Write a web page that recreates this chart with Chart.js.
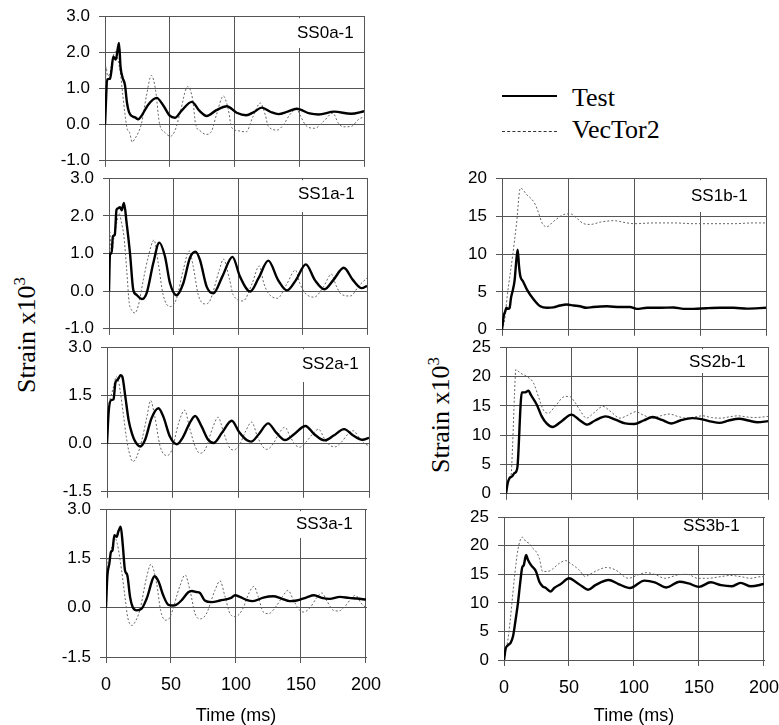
<!DOCTYPE html>
<html><head><meta charset="utf-8">
<script src="https://cdn.jsdelivr.net/npm/chart.js@4.4.1/dist/chart.umd.min.js"></script>
<style>
html,body{margin:0;padding:0;background:#fff}
body{width:779px;height:725px;overflow:hidden;position:relative;font-family:"Liberation Sans",Arial,sans-serif}
canvas{position:absolute;z-index:2}
.hg{position:absolute;height:1px;background:#555;z-index:1}
.ytitle{position:absolute;font-family:"Liberation Serif","Times New Roman",serif;font-size:26px;line-height:26px;white-space:nowrap;transform:translate(-50%,-50%) rotate(-90deg);color:#000}
.ytitle sup{font-size:17px;line-height:0;vertical-align:10px}
.leg{position:absolute;font-family:"Liberation Serif","Times New Roman",serif;font-size:26px;line-height:26px;white-space:nowrap;color:#000}
.legline{position:absolute;left:502px;width:55px;height:0}
</style>
</head><body>
<div class="legline" style="top:95px;border-top:2px solid #000"></div>
<div class="legline" style="top:131px;border-top:1px dashed #333"></div>
<div class="leg" style="left:572px;top:85px">Test</div>
<div class="leg" style="left:572px;top:117px">VecTor2</div>
<div class="ytitle" style="left:27px;top:335px">Strain x10<sup>3</sup></div>
<div class="ytitle" style="left:441px;top:415px">Strain x10<sup>3</sup></div>
<script>
// ---------- DATA (time ms, strain x10^3) ----------
const timeTicks = [0, 50, 100, 150, 200];
const panelNames = ['SS0a-1','SS1a-1','SS2a-1','SS3a-1','SS1b-1','SS2b-1','SS3b-1'];
const seriesNames = ['Test','VecTor2'];

const ss0aTest = [[0,0],[1.8,1.25],[3.9,1.27],[5,1.5],[6.4,1.88],[8.3,1.8],[10.8,2.26],[12,1.6],[13.6,1.3],[15.4,1.1],[17,0.6],[18.5,0.35],[20.6,0.24],[23.2,0.2],[25.7,0.15],[28.3,0.25],[33.5,0.56],[39.9,0.74],[45,0.53],[50.2,0.24],[54,0.19],[59,0.38],[67,0.63],[73,0.38],[78.5,0.24],[86,0.4],[94,0.51],[101.7,0.33],[109,0.26],[115,0.35],[121,0.47],[128,0.35],[134,0.29],[141,0.36],[148,0.44],[158,0.31],[165,0.28],[177,0.36],[190,0.3],[200,0.37]];
const ss0aVec = [[0,0],[0.8,1.6],[2,1.35],[4,1.45],[6,1.85],[8.2,2.03],[10,1.8],[12,1.4],[13.5,0.9],[15.4,0.3],[17,-0.1],[19,-0.22],[21,-0.48],[23,-0.39],[25.7,-0.22],[28.3,0.05],[32,0.8],[35.8,1.36],[39,0.97],[42,0.05],[46.4,-0.22],[50.5,-0.32],[54,-0.17],[58,0.33],[63.8,1.05],[67.7,0.7],[70,0.01],[73.4,-0.17],[78.5,-0.27],[82.4,-0.17],[86.2,0.29],[91.4,0.79],[95.2,0.42],[97.8,-0.08],[103,-0.17],[109,-0.2],[114,0.2],[120,0.6],[124,0.24],[126,-0.04],[133,-0.15],[138,0.01],[143,0.29],[148,0.43],[151,0.24],[155,-0.02],[162,-0.1],[169,0.1],[176,0.32],[180,0.05],[184,-0.06],[190,-0.05],[196,0.15],[200,0.22]];

const ss1aTest = [[0,0],[0.8,1.0],[2,1.0],[3,1.45],[4.5,1.5],[5.8,2.16],[7,2.2],[8.5,2.23],[9.8,2.15],[11.6,2.34],[13.7,1.8],[16.3,1.0],[18.8,0.04],[21.4,-0.1],[25.3,-0.21],[29.2,-0.05],[34.3,0.74],[39,1.29],[43.4,0.92],[47.3,0.21],[52.4,-0.11],[57.6,0.21],[62.7,0.88],[67,1.05],[70.5,0.83],[75.7,0.12],[80.8,-0.06],[88,0.4],[95.7,0.91],[101.5,0.39],[109.5,-0.01],[116,0.35],[123.5,0.81],[131,0.3],[138,0.02],[145,0.3],[152.6,0.71],[159.5,0.3],[167,0.05],[174,0.3],[182,0.62],[189,0.3],[196,0.08],[200,0.14]];
const ss1aVec = [[0,0],[0.5,1.59],[2,1.0],[3.9,1.45],[5.9,1.8],[7.7,2.07],[9.8,1.8],[11.6,1.45],[13.7,0.57],[15.7,-0.32],[17.5,-0.5],[20,-0.58],[22.6,-0.4],[26.6,0.3],[30.5,0.92],[34.9,1.36],[38.2,0.74],[42,-0.1],[47.3,-0.41],[52,-0.23],[57.6,0.57],[62.2,1.07],[65.3,0.65],[69.2,-0.1],[74.4,-0.34],[78,-0.27],[85.6,0.57],[88.7,0.85],[93.5,0.3],[96.3,-0.1],[104,-0.26],[111,0.21],[116.5,0.67],[120,0.21],[123.4,-0.05],[130.5,-0.19],[138,0.2],[144.5,0.56],[148,0.2],[152,-0.05],[159,-0.16],[166,0.1],[172.5,0.45],[176,0.15],[180,-0.08],[187,-0.13],[194,0.15],[200,0.35]];

const ss2aTest = [[0,0],[1.3,1.0],[3,1.35],[5,1.38],[6.3,1.87],[7.6,1.97],[8.9,2.03],[10.2,2.13],[11.7,2.08],[14,1.46],[16.5,0.73],[19,0.32],[21.6,0.06],[25.4,-0.09],[29,0.11],[34,0.79],[39.3,1.1],[43,0.84],[48,0.22],[53.3,-0.02],[58,0.2],[63,0.63],[67.3,0.86],[72,0.55],[77.4,0.11],[81.5,0.02],[88,0.35],[95.2,0.71],[101,0.35],[106.6,0.11],[110,0.06],[116,0.3],[123,0.63],[129,0.35],[136,0.11],[143,0.3],[151.5,0.55],[158,0.3],[166,0.1],[173,0.25],[181,0.45],[188,0.25],[195,0.12],[200,0.18]];
const ss2aVec = [[0,0],[1.3,1.15],[3,1.46],[5,1.77],[7.1,2.08],[8.5,2.0],[10,1.66],[12.7,0.84],[14.7,0.22],[16.5,-0.2],[19.8,-0.56],[22.8,-0.4],[26.6,0.11],[30.5,0.84],[33.3,1.34],[36.5,0.84],[40.6,-0.09],[45.7,-0.37],[49.5,-0.2],[54.6,0.63],[59.3,1.04],[63,0.5],[67.3,-0.09],[71,-0.3],[75,-0.18],[81,0.53],[84.8,0.82],[89,0.35],[93,-0.09],[96.4,-0.2],[101,-0.05],[106,0.4],[110.4,0.67],[115,0.2],[119,-0.1],[122,-0.18],[127,0],[131,0.3],[135.8,0.51],[140,0.2],[144,-0.05],[147.2,-0.11],[152,0.05],[157,0.3],[161.5,0.45],[166,0.15],[170,-0.05],[174,-0.1],[179,0.05],[184,0.3],[188,0.4],[193,0.15],[197,-0.02],[200,-0.05]];

const ss3aTest = [[0,0],[1,0.94],[2.6,1.35],[3.8,1.7],[5,1.75],[6.4,2.21],[8.2,2.16],[9.5,2.32],[11.3,2.47],[12.8,1.96],[14.6,1.14],[16.4,0.99],[18.5,0.33],[20.5,0.02],[23.6,-0.08],[27.4,-0.03],[31.3,0.28],[37.5,0.96],[40.5,0.79],[44,0.38],[48,0.09],[51.5,0.07],[53.5,0.08],[58,0.22],[63.3,0.47],[66,0.51],[69.5,0.48],[72.3,0.45],[76,0.22],[81.3,0.17],[87.7,0.22],[96.7,0.31],[99.2,0.38],[103,0.33],[108,0.24],[113,0.2],[121,0.31],[128.7,0.35],[135,0.28],[141.5,0.2],[146.7,0.22],[154,0.31],[160,0.38],[166,0.3],[172,0.27],[180,0.33],[187,0.3],[193,0.28],[200,0.25]];
const ss3aVec = [[0,0],[1,1.4],[3,1.55],[4.5,1.86],[6.9,2.11],[8.6,1.96],[12,1.14],[14.6,0.33],[16.7,-0.29],[19.7,-0.54],[22.3,-0.44],[26,-0.08],[31.3,0.94],[34.5,1.32],[39,0.73],[42,-0.08],[45.8,-0.38],[49,-0.3],[57,0.68],[60.8,1.0],[64.6,0.53],[68.5,-0.18],[72.3,-0.34],[77,-0.2],[83.8,0.53],[87.7,0.82],[91.5,0.35],[95.4,-0.18],[99.5,-0.27],[105,-0.05],[110,0.45],[113.8,0.65],[117,0.35],[121,-0.13],[125,-0.18],[131,0.05],[136,0.35],[140,0.53],[144,0.25],[149,-0.08],[152,-0.13],[157,0.0],[162,0.3],[166,0.45],[170,0.2],[175,-0.08],[179,-0.1],[184,0.05],[189,0.3],[192,0.38],[196,0.15],[200,0.0]];

const ss1bTest = [[0,0],[1.3,1.8],[2.5,2.46],[3.3,2.9],[4.5,2.76],[5.8,2.9],[6.8,4.2],[8.3,5.3],[9.6,6.6],[10.9,9.25],[11.9,10.57],[12.9,8.4],[13.9,7.06],[15.9,6.4],[18.9,5.3],[24,4.0],[29,3.1],[34,2.9],[39,2.95],[44,3.2],[49,3.33],[54.3,3.2],[59,3.1],[64,2.9],[69,3.0],[79.5,3.1],[89.6,3.0],[97,3.0],[102,2.76],[110,2.9],[120,2.9],[130,2.94],[137.6,2.76],[145,2.76],[155,2.85],[165,2.9],[175.5,2.9],[185.6,2.8],[200,2.9]];
const ss1bVec = [[0,0],[2,1.3],[4,4.5],[8,9.7],[11,14],[13.9,18.7],[18.9,17.8],[24,16.9],[26.5,16],[28.5,15],[30.3,14.1],[34,13.6],[39,14.3],[46.7,15.2],[51.8,15.3],[56.8,14.7],[61.9,14],[66.9,13.9],[74.5,14.2],[84.6,14.4],[94.7,14.1],[100.5,14.0],[115,14.1],[130,14.1],[145,14.0],[160,14.0],[175.5,14.0],[190.7,14.1],[200,14.1]];

const ss2bTest = [[0,0],[1.3,1.8],[2.8,2.7],[4.5,2.95],[6.3,3.5],[7.8,3.8],[8.8,4.7],[12.1,17.3],[14.6,17.3],[17.2,17.6],[18.9,16.9],[23.5,15.2],[27.3,13.2],[31,12.0],[35.6,11.4],[42,12.3],[50,13.5],[56,12.6],[62,11.8],[68,12.5],[76,13.2],[84,12.6],[91,12.0],[98,11.9],[105,12.5],[112,13.1],[119,12.6],[126,12.0],[133,12.5],[142,12.9],[150,12.7],[157,12.3],[163,12.1],[170,12.5],[178,12.8],[185,12.5],[192,12.2],[200,12.4]];
const ss2bVec = [[0,0],[2,2.4],[3.8,3.0],[5,8],[6.5,17],[7.5,21.2],[10.9,20.6],[15.9,20.0],[21,18.9],[24.7,16.6],[28.5,14.3],[32.3,13.75],[37.4,14.9],[45,16.6],[48.5,16.6],[52,15.8],[56.3,14.3],[61.5,12.9],[67,13.8],[74,14.9],[80,14.0],[87,12.9],[93,13.4],[99,14.0],[105,13.4],[112,12.9],[118,13.3],[125,13.6],[131,13.2],[138,12.9],[144,13.1],[150,13.3],[157,13.0],[164,12.9],[170,13.1],[177,13.3],[184,13.1],[190,13.0],[200,13.2]];

const ss3bTest = [[0,0],[1.3,2.0],[3,2.6],[5.1,3.0],[6.9,4.1],[8.9,7.0],[10.7,9.9],[12.4,13.4],[14,16.2],[15.2,16.6],[17,18.4],[18.3,17.6],[20.8,16.6],[24.6,15.5],[27.2,13.7],[29.7,12.9],[32.2,12.6],[36,12.0],[38.6,12.6],[43.7,13.3],[50,14.3],[55,13.7],[60,12.9],[64.7,12.3],[70.3,13.1],[80.5,14.0],[88,13.3],[97,12.6],[108,13.9],[116,13.6],[125,12.7],[135,13.7],[142,13.4],[150,12.8],[159,13.6],[167,13.1],[175,12.9],[182,13.5],[190,12.9],[200,13.3]];
const ss3bVec = [[0,0],[1.3,1.75],[3,3.5],[4.8,7.0],[8.1,14.6],[10.7,19.3],[14,21.5],[17,20.7],[19.5,20.4],[22,19.6],[24.6,19.0],[27.2,17.8],[29.7,15.5],[33.5,15.5],[37.3,15.9],[42.4,16.9],[47.5,17.4],[51.3,16.9],[57.6,15.8],[62.7,14.6],[65.2,14.9],[72.8,15.8],[79,16.2],[85.5,15.8],[95.7,14.3],[103,14.9],[109.6,15.3],[117,14.9],[123.6,14.3],[133.8,14.9],[141,15.0],[149,14.3],[156.6,14.3],[166.8,14.6],[174,14.8],[182,14.6],[189.6,14.3],[198,14.6],[200,14.6]];

// ---------- LAYOUT ----------
const panels = [
  {name:panelNames[0], test:ss0aTest, vec:ss0aVec, yMin:-1, yMax:3, yStep:1, dec:1, left:105, right:364, top:16, bottom:161, showX:false, lab:{x:297, cy:33, bb:48}},
  {name:panelNames[1], test:ss1aTest, vec:ss1aVec, yMin:-1, yMax:3, yStep:1, dec:1, left:109, right:367, top:178, bottom:329, showX:false, lab:{x:298, cy:194, bb:212}},
  {name:panelNames[2], test:ss2aTest, vec:ss2aVec, yMin:-1.5, yMax:3, yStep:1.5, dec:1, left:107, right:369, top:347, bottom:492, showX:false, lab:{x:302, cy:364, bb:382}},
  {name:panelNames[3], test:ss3aTest, vec:ss3aVec, yMin:-1.5, yMax:3, yStep:1.5, dec:1, left:106, right:366, top:509, bottom:657, showX:true, xh:70, lab:{x:296, cy:524, bb:538}},
  {name:panelNames[4], test:ss1bTest, vec:ss1bVec, yMin:0, yMax:20, yStep:5, dec:0, left:502, right:766, top:178, bottom:330, showX:false, lab:{x:691, cy:196, bb:212}},
  {name:panelNames[5], test:ss2bTest, vec:ss2bVec, yMin:0, yMax:25, yStep:5, dec:0, left:506, right:768, top:347, bottom:494, showX:false, lab:{x:689, cy:362, bb:373}},
  {name:panelNames[6], test:ss3bTest, vec:ss3bVec, yMin:0, yMax:25, yStep:5, dec:0, left:504, right:764, top:517, bottom:660, showX:true, xh:67, lab:{x:683, cy:526, bb:545}}
];

const GRID = '#555';
const FONT = '"Liberation Sans", Arial, sans-serif';

const labelPlugin = {
  id:'panelLabel',
  beforeDatasetsDraw(chart, args, o){
    const ctx = chart.ctx, a = chart.chartArea;
    ctx.save();
    ctx.font = '17px ' + FONT;
    const tw = ctx.measureText(o.text).width;
    ctx.fillStyle = '#fff';
    ctx.fillRect(o.x - 4, a.top + 2, tw + 8, o.bb - a.top - 2);
    ctx.fillStyle = '#000';
    ctx.textBaseline = 'middle';
    ctx.textAlign = 'left';
    ctx.fillText(o.text, o.x, o.cy);
    ctx.restore();
  }
};

function makeChart(p, cv, ox, oy, padL, padT, padR, xh){
  return new Chart(cv, {
    type:'line',
    data:{datasets:[
      {label:seriesNames[0], data:p.test.map(([x,y])=>({x,y})), borderColor:'#000', borderWidth:2.4, pointRadius:0, cubicInterpolationMode:'monotone', order:0},
      {label:seriesNames[1], data:p.vec.map(([x,y])=>({x,y})), borderColor:'#666', borderWidth:1, borderDash:[2,2], pointRadius:0, cubicInterpolationMode:'monotone', order:1}
    ]},
    options:{
      responsive:false, maintainAspectRatio:false, animation:false, devicePixelRatio:1,
      layout:{padding:{top:padT, right:padR, left:0, bottom:0}},
      plugins:{legend:{display:false}, tooltip:{enabled:false},
        panelLabel:{text:p.name, x:p.lab.x - ox, cy:p.lab.cy - oy, bb:p.lab.bb - oy}},
      scales:{
        x:{type:'linear', min:timeTicks[0], max:timeTicks[timeTicks.length-1],
          afterFit:s=>{s.height = xh;},
          afterBuildTicks:s=>{s.ticks = timeTicks.map(v=>({value:v}));},
          ticks:{display:p.showX, color:'#000', padding:11, maxRotation:0, font:{family:FONT, size:18}},
          grid:{color:GRID, lineWidth:1, tickLength:6},
          border:{color:GRID},
          title:{display:p.showX, text:'Time (ms)', color:'#000', padding:0, font:{family:FONT, size:18}}},
        y:{type:'linear', min:p.yMin, max:p.yMax,
          afterFit:s=>{s.width = padL;},
          ticks:{stepSize:p.yStep, color:'#000', padding:9, font:{family:FONT, size:17}, callback:v=>Number(v).toFixed(p.dec)},
          grid:{color:GRID, lineWidth:1, tickLength:6},
          border:{color:GRID}}
      }
    },
    plugins:[labelPlugin]
  });
}
function build(p){
  const padL = 60, padT = 14, padR = 26;
  const xh = p.showX ? p.xh : 8;
  const w = p.right - p.left, h = p.bottom - p.top;
  const probe = document.createElement('canvas');
  probe.width = padL + w + padR; probe.height = padT + h + xh;
  probe.style.left = '-2000px'; probe.style.top = '0px';
  document.body.appendChild(probe);
  const pc = makeChart(p, probe, 0, 0, padL, padT, padR, xh);
  const dTop = Math.round(pc.chartArea.top - padT);
  const dBot = Math.round((probe.height - xh) - pc.chartArea.bottom);
  pc.destroy(); probe.remove();
  const cv = document.createElement('canvas');
  cv.width = padL + w + padR; cv.height = padT + dTop + h + dBot + xh;
  const ox = p.left - padL, oy = p.top - padT - dTop;
  cv.style.left = ox + 'px'; cv.style.top = oy + 'px';
  document.body.appendChild(cv);
  const ch = makeChart(p, cv, ox, oy, padL, padT, padR, xh);
  // horizontal grid lines + y tick marks as page elements, placed from the library's y scale
  const a = ch.chartArea, ys = ch.scales.y;
  ys.ticks.forEach(t => {
    const py = Math.floor(oy + ys.getPixelForValue(t.value));
    const d = document.createElement('div');
    d.className = 'hg';
    d.style.left = (ox + Math.floor(a.left) - 6) + 'px';
    d.style.top = py + 'px';
    d.style.width = (Math.ceil(a.right) - Math.floor(a.left) + 7) + 'px';
    document.body.appendChild(d);
  });
}
panels.forEach(build);
</script>
</body></html>
